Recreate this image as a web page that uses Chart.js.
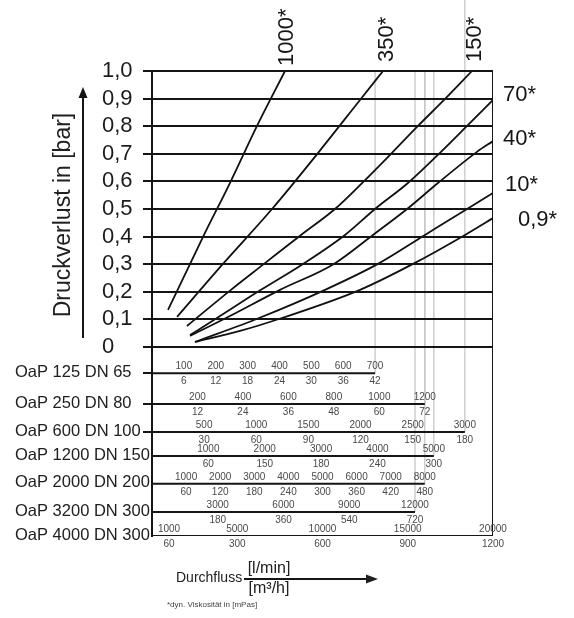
<!DOCTYPE html>
<html>
<head>
<meta charset="utf-8">
<script src="https://cdn.jsdelivr.net/npm/chart.js@4.4.0/dist/chart.umd.min.js"></script>
<style>
  html, body { margin: 0; padding: 0; background: #ffffff; }
  canvas { display: block; }
</style>
</head>
<body>
<canvas id="c" width="574" height="618" style="width:574px;height:618px"></canvas>
<script>
// ---------------- DATA ----------------
// viscosity curves (dyn. viscosity in mPas); x = flow on the OaP 4000 DN 300 scale [l/min], y = pressure loss [bar]
const viscosityLabels = ['1000*', '350*', '150*', '70*', '40*', '10*', '0,9*'];
const flow1000 = [940, 3050, 4570, 6160, 7800];
const loss1000 = [0.134, 0.406, 0.594, 0.801, 1.0];
const flow350 = [1470, 4160, 7040, 9790, 12200, 13550];
const loss350 = [0.109, 0.301, 0.5, 0.707, 0.895, 1.0];
const flow150 = [2050, 4630, 6570, 8740, 10730, 12320, 14130, 15600, 17130, 18770];
const loss150 = [0.076, 0.207, 0.301, 0.406, 0.5, 0.594, 0.707, 0.801, 0.895, 1.0];
const flow70 = [2230, 3810, 6390, 8860, 11320, 13080, 15010, 16950, 18480, 20000];
const loss70 = [0.043, 0.105, 0.207, 0.301, 0.406, 0.5, 0.594, 0.707, 0.801, 0.895];
const flow40 = [2230, 4340, 7510, 10670, 12960, 14960, 16770, 19060, 20000];
const loss40 = [0.040, 0.105, 0.207, 0.301, 0.406, 0.5, 0.594, 0.707, 0.746];
const flow10 = [2520, 6280, 10150, 13250, 16010, 18480, 20000];
const loss10 = [0.018, 0.105, 0.207, 0.301, 0.406, 0.5, 0.558];
const flow09 = [2520, 5160, 7620, 12200, 15310, 18360, 20000];
const loss09 = [0.018, 0.058, 0.105, 0.207, 0.301, 0.406, 0.467];

// pressure-loss axis ticks
const lossTicks = [0, 0.1, 0.2, 0.3, 0.4, 0.5, 0.6, 0.7, 0.8, 0.9, 1.0];
const lossTickLabels = ['0', '0,1', '0,2', '0,3', '0,4', '0,5', '0,6', '0,7', '0,8', '0,9', '1,0'];

// pump sizes and their flow scales
const pumpSizes = ['OaP 125 DN 65', 'OaP 250 DN 80', 'OaP 600 DN 100', 'OaP 1200 DN 150',
                   'OaP 2000 DN 200', 'OaP 3200 DN 300', 'OaP 4000 DN 300'];
const fullScaleLmin = [1070, 1500, 3270, 6050, 10000, 15560, 20000]; // l/min at full chart width
const lmin125 = [100, 200, 300, 400, 500, 600, 700];
const m3h125 = ['6', '12', '18', '24', '30', '36', '42'];
const lmin250 = [200, 400, 600, 800, 1000, 1200];
const m3h250 = ['12', '24', '36', '48', '60', '72'];
const lmin600 = [500, 1000, 1500, 2000, 2500, 3000];
const m3h600 = ['30', '60', '90', '120', '150', '180'];
const lmin1200 = [1000, 2000, 3000, 4000, 5000];
const m3h1200 = ['60', '150', '180', '240', '300'];
const lmin2000 = [1000, 2000, 3000, 4000, 5000, 6000, 7000, 8000];
const m3h2000 = ['60', '120', '180', '240', '300', '360', '420', '480'];
const lmin3200 = [3000, 6000, 9000, 12000];
const m3h3200 = ['180', '360', '540', '720'];
const lmin4000 = [1000, 5000, 10000, 15000, 20000];
const m3h4000 = ['60', '300', '600', '900', '1200'];

// ---------------- LAYOUT / STYLE ----------------
const FONT = "'Liberation Sans', Arial, Helvetica, sans-serif";
const xMax = fullScaleLmin[6];
const rowLevels = [-0.095, -0.207, -0.308, -0.395, -0.496, -0.598, -0.685]; // vertical slot of each size row
const yMin = rowLevels[6];
const tickRows = [0, 1, 2]; // rows with a small tick left of the axis
const guideTops = [1, 1, 1.26, 1, 1, 1];

const lminRows = [lmin125, lmin250, lmin600, lmin1200, lmin2000, lmin3200, lmin4000];
const m3hRows = [m3h125, m3h250, m3h600, m3h1200, m3h2000, m3h3200, m3h4000];
const curveFlows = [flow1000, flow350, flow150, flow70, flow40, flow10, flow09];
const curveLosses = [loss1000, loss350, loss150, loss70, loss40, loss10, loss09];
// label offsets (px) relative to each curve's end
const labelPlace = [
  {rot: true, dx: 2, dy: -5}, {rot: true, dx: 4, dy: -9}, {rot: true, dx: 3, dy: -9},
  {rot: false, dx: 10, dy: -5}, {rot: false, dx: 10, dy: -2}, {rot: false, dx: 12, dy: -8}, {rot: false, dx: 25, dy: 2}
];

const toMain = (v, r) => v * xMax / fullScaleLmin[r];

const datasets = [];
// guide lines (grey) from end of each size row up
for (let r = 0; r < 6; r++) {
  const end = toMain(lminRows[r][lminRows[r].length - 1], r);
  datasets.push({
    data: [{x: end, y: rowLevels[r]}, {x: end, y: guideTops[r]}],
    borderColor: '#c6c6c6', borderWidth: 1.3, pointRadius: 0, showLine: true, order: 10,
    clip: guideTops[r] > 1 ? false : undefined
  });
}
// size row lines
for (let r = 0; r < 7; r++) {
  const end = toMain(lminRows[r][lminRows[r].length - 1], r);
  datasets.push({
    data: [{x: 0, y: rowLevels[r]}, {x: end, y: rowLevels[r]}],
    borderColor: '#151515', borderWidth: 2, pointRadius: 0, showLine: true, order: 5
  });
}
// right frame
datasets.push({
  data: [{x: xMax, y: yMin}, {x: xMax, y: 1}],
  borderColor: '#151515', borderWidth: 2, pointRadius: 0, showLine: true, order: 5
});
// viscosity curves
curveFlows.forEach((fl, i) => {
  datasets.push({
    label: viscosityLabels[i],
    data: fl.map((f, j) => ({x: f, y: curveLosses[i][j]})),
    borderColor: '#111111', borderWidth: 1.8, pointRadius: 0, showLine: true,
    cubicInterpolationMode: 'monotone', order: 1
  });
});

const decorPlugin = {
  id: 'decor',
  beforeDraw(chart) {
    const c = chart.ctx;
    c.save(); c.fillStyle = '#ffffff'; c.fillRect(0, 0, chart.width, chart.height); c.restore();
  },
  afterDraw(chart) {
    const {ctx, scales: {x, y}} = chart;
    ctx.save();
    // size row names
    ctx.fillStyle = '#202020';
    ctx.textAlign = 'left'; ctx.textBaseline = 'middle';
    ctx.font = '16.5px ' + FONT;
    pumpSizes.forEach((name, r) => ctx.fillText(name, 15, y.getPixelForValue(rowLevels[r]) - 1));
    // row tick labels
    ctx.font = '10px ' + FONT; ctx.fillStyle = '#4a4a4a'; ctx.textAlign = 'center';
    lminRows.forEach((vals, r) => {
      const py = y.getPixelForValue(rowLevels[r]);
      vals.forEach((v, j) => {
        const px = x.getPixelForValue(toMain(v, r));
        ctx.fillText(String(v), px, py - 7);
        ctx.fillText(m3hRows[r][j], px, py + 8);
      });
    });
    // curve labels
    ctx.fillStyle = '#151515'; ctx.font = '22px ' + FONT;
    curveFlows.forEach((fl, i) => {
      const n = fl.length - 1;
      const px = x.getPixelForValue(fl[n]);
      const py = y.getPixelForValue(curveLosses[i][n]);
      const p = labelPlace[i];
      ctx.save();
      ctx.translate(px + p.dx, py + p.dy);
      if (p.rot) ctx.rotate(-Math.PI / 2);
      ctx.textAlign = 'left'; ctx.textBaseline = 'middle';
      ctx.fillText(viscosityLabels[i], 0, 0);
      ctx.restore();
    });
    // y title + arrow
    ctx.save();
    ctx.translate(64, 215); ctx.rotate(-Math.PI / 2);
    ctx.font = '23px ' + FONT; ctx.textAlign = 'center'; ctx.textBaseline = 'middle';
    ctx.fillStyle = '#202020';
    ctx.fillText('Druckverlust in [bar]', 0, 0);
    ctx.restore();
    ctx.strokeStyle = '#151515'; ctx.fillStyle = '#151515'; ctx.lineWidth = 2;
    ctx.beginPath(); ctx.moveTo(83, 338); ctx.lineTo(83, 96); ctx.stroke();
    ctx.beginPath(); ctx.moveTo(83, 87); ctx.lineTo(78.5, 98); ctx.lineTo(87.5, 98); ctx.closePath(); ctx.fill();
    // x title
    ctx.fillStyle = '#202020'; ctx.textBaseline = 'middle';
    ctx.font = '14px ' + FONT; ctx.textAlign = 'left';
    ctx.fillText('Durchfluss', 176, 578);
    ctx.font = '16px ' + FONT; ctx.textAlign = 'center';
    ctx.fillText('[l/min]', 269, 569);
    ctx.fillText('[m\u00B3/h]', 269, 589);
    ctx.lineWidth = 1.8;
    ctx.beginPath(); ctx.moveTo(244, 579); ctx.lineTo(368, 579); ctx.stroke();
    ctx.beginPath(); ctx.moveTo(378, 579); ctx.lineTo(366, 574.5); ctx.lineTo(366, 583.5); ctx.closePath(); ctx.fill();
    // footnote
    ctx.font = '8px ' + FONT; ctx.textAlign = 'left'; ctx.fillStyle = '#444';
    ctx.fillText('*dyn. Viskosit\u00E4t in [mPas]', 167, 605);
    ctx.restore();
  }
};

new Chart(document.getElementById('c'), {
  type: 'scatter',
  data: { datasets },
  options: {
    responsive: false,
    animation: false,
    events: [],
    layout: { padding: { left: 102, right: 81, top: 71, bottom: 82 } },
    plugins: { legend: { display: false }, tooltip: { enabled: false } },
    scales: {
      x: { type: 'linear', min: 0, max: xMax, display: false },
      y: {
        type: 'linear', position: 'left', min: yMin, max: 1,
        afterBuildTicks: (s) => {
          s.ticks = tickRows.map(r => ({value: rowLevels[r]})).concat(lossTicks.map(v => ({value: v})));
        },
        afterFit: (s) => { s.width = 50; },
        ticks: {
          autoSkip: false, crossAlign: 'far', color: '#1c1c1c',
          font: { family: FONT, size: 22 },
          callback: (v) => { const k = lossTicks.indexOf(v); return k >= 0 ? lossTickLabels[k] : ''; }
        },
        grid: {
          z: 1, tickLength: 9, lineWidth: 2,
          color: (c) => (c.tick && c.tick.value >= 0) ? '#151515' : 'rgba(0,0,0,0)',
          tickColor: '#151515'
        },
        border: { display: true, color: '#151515', width: 2, z: 2 }
      }
    }
  },
  plugins: [decorPlugin]
});
</script>
</body>
</html>
